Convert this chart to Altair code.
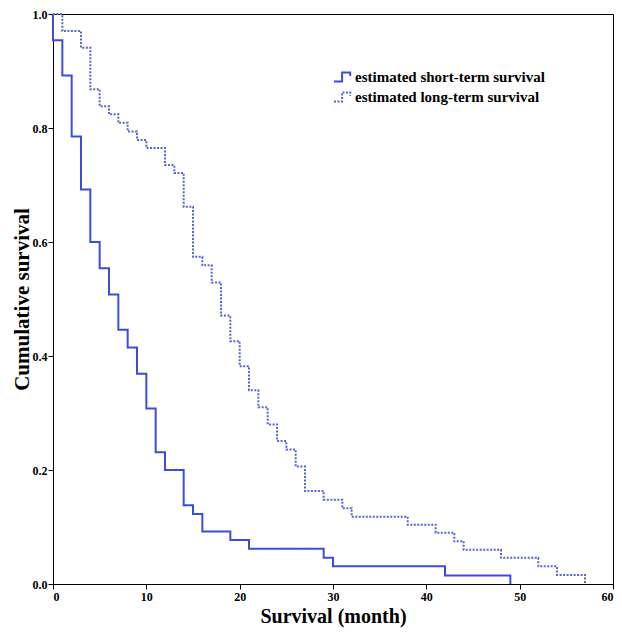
import altair as alt
import pandas as pd

series_names = ["estimated short-term survival", "estimated long-term survival"]

short_time = [0, 0, 1, 2, 3, 4, 5, 6, 7, 8, 9, 10, 11, 12, 14, 15, 16, 19, 21, 29, 30, 42, 49]
short_surv = [1.0, 0.954, 0.892, 0.785, 0.692, 0.600, 0.554, 0.508, 0.446, 0.415, 0.369,
              0.308, 0.231, 0.200, 0.138, 0.123, 0.092, 0.077, 0.062, 0.046, 0.031, 0.015, 0.0]

long_time = [0, 1, 3, 4, 5, 6, 7, 8, 9, 10, 12, 13, 14, 15, 16, 17, 18, 19, 20, 21, 22, 23,
             24, 25, 26, 27, 29, 31, 32, 38, 41, 43, 44, 48, 52, 54, 57]
long_surv = [1.0, 0.970, 0.941, 0.868, 0.838, 0.824, 0.809, 0.794, 0.779, 0.765, 0.735, 0.721,
             0.662, 0.574, 0.559, 0.529, 0.471, 0.426, 0.382, 0.340, 0.310, 0.280, 0.251, 0.236,
             0.206, 0.163, 0.148, 0.133, 0.118, 0.104, 0.090, 0.075, 0.060, 0.046, 0.031, 0.016, 0.0]

x_ticks = [0, 10, 20, 30, 40, 50, 60]
y_ticks = [0.0, 0.2, 0.4, 0.6, 0.8, 1.0]

rows = []
for i, (t, s) in enumerate(zip(short_time, short_surv)):
    rows.append({"time": t, "surv": s, "series": series_names[0], "idx": i})
for i, (t, s) in enumerate(zip(long_time, long_surv)):
    rows.append({"time": t, "surv": s, "series": series_names[1], "idx": i})
df = pd.DataFrame(rows)

FONT = "Liberation Serif"

legend_kw = dict(
    title=None,
    orient="none",
    legendX=280,
    legendY=53,
    symbolType="M-1,0.5H-0.1V-0.5H0.8V-0.1",
    symbolSize=324,
    symbolStrokeWidth=2,
    symbolFillColor="transparent",
    labelFont=FONT,
    labelFontWeight="bold",
    labelFontSize=15,
    labelColor="black",
    labelOffset=2,
    labelLimit=0,
    rowPadding=1,
)

chart = alt.Chart(df).mark_line(interpolate="step-after", strokeWidth=2).encode(
    x=alt.X("time:Q", scale=alt.Scale(domain=[0, 60], nice=False),
            axis=alt.Axis(values=x_ticks, title="Survival (month)", grid=False,
                          format="d")),
    y=alt.Y("surv:Q", scale=alt.Scale(domain=[0, 1], nice=False),
            axis=alt.Axis(values=y_ticks, title="Cumulative survival", grid=False,
                          format=".1f")),
    color=alt.Color("series:N", scale=alt.Scale(domain=series_names,
                                                range=["#3b4cd8", "#5863d6"]),
                    legend=alt.Legend(**legend_kw)),
    strokeDash=alt.StrokeDash("series:N", scale=alt.Scale(domain=series_names,
                                                          range=[[1, 0], [2, 1.5]]),
                              legend=alt.Legend(**legend_kw)),
    order="idx:Q",
).properties(
    width=560,
    height=570,
    autosize=alt.AutoSizeParams(type="none"),
    padding={"left": 45, "top": 6, "right": 1, "bottom": 44},
).configure_view(
    stroke="black", strokeWidth=1
).configure_axis(
    labelFont=FONT, labelFontWeight="bold", labelFontSize=12, labelColor="black",
    titleFont=FONT, titleFontWeight="bold", titleColor="black",
    domainColor="black", tickColor="black", tickSize=5,
).configure_axisX(
    titleFontSize=20, titlePadding=4, labelPadding=2,
).configure_axisY(
    titleFontSize=21, titlePadding=0, labelPadding=1,
)

chart.save("out.html", embed_options={"renderer": "svg", "actions": False})
